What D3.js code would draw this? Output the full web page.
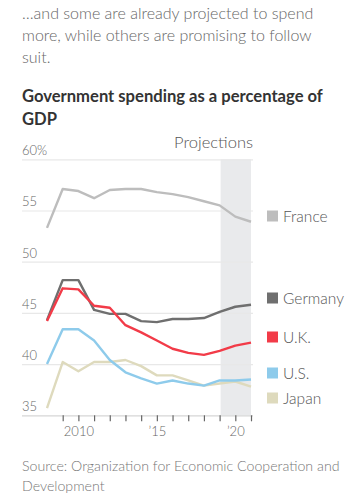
<!DOCTYPE html>
<html><head><meta charset="utf-8">
<script src="https://cdn.jsdelivr.net/npm/d3@7"></script>
<style>
body{margin:0;background:#fff;}
svg{display:block;}
</style></head>
<body>
<svg id="c" width="356" height="501"></svg>
<script>
const years = [2008,2009,2010,2011,2012,2013,2014,2015,2016,2017,2018,2019,2020,2021];
const france  = [53.3,57.1,56.9,56.2,57.0,57.1,57.1,56.8,56.6,56.3,55.9,55.5,54.4,53.9];
const germany = [44.3,48.2,48.2,45.3,44.9,44.9,44.2,44.1,44.4,44.4,44.5,45.1,45.6,45.8];
const uk      = [44.2,47.4,47.3,45.7,45.5,43.8,43.1,42.3,41.5,41.1,40.9,41.3,41.8,42.1];
const us      = [40.0,43.4,43.4,42.3,40.4,39.2,38.6,38.1,38.4,38.1,37.9,38.4,38.4,38.5];
const japan   = [35.7,40.2,39.3,40.2,40.2,40.4,39.8,38.9,38.9,38.4,37.9,38.1,38.3,37.8];
const yTicks = [35,40,45,50,55,60];
const xTickLabels = {2010:"2010",2015:"\u201915",2020:"\u201920"};
const projectionStart = 2019;

const series = [
  {name:"France", values:france, color:"#bdbdbd", ly:216},
  {name:"Germany", values:germany, color:"#6f6f6f", ly:298},
  {name:"U.K.", values:uk, color:"#f23b48", ly:337},
  {name:"U.S.", values:us, color:"#8ecbeb", ly:373},
  {name:"Japan", values:japan, color:"#dedabd", ly:398}
];

const svg = d3.select("#c");
const FONT = "Lato, 'Noto Sans', sans-serif";

// Intro text
const intro = ["\u2026and some are already projected to spend","more, while others are promising to follow","suit."];
svg.selectAll("text.intro").data(intro).join("text")
  .attr("x",22).attr("y",(d,i)=>19+i*22)
  .attr("font-family",FONT).attr("font-size",16).attr("font-weight",300)
  .attr("fill","#666").text(d=>d);

const title = ["Government spending as a percentage of","GDP"];
svg.selectAll("text.title").data(title).join("text")
  .attr("x",22).attr("y",(d,i)=>102+i*23)
  .attr("font-family",FONT).attr("font-size",16.6).attr("font-weight",700)
  .attr("fill","#333").text(d=>d);

const x = d3.scaleLinear().domain([2008,2021]).range([47,251]);
const y = d3.scaleLinear().domain([35,60]).range([415.3,159.3]);

// projection shade
svg.append("rect")
  .attr("x",x(projectionStart)+1).attr("y",y(60))
  .attr("width",x(2021)-x(projectionStart)-1).attr("height",y(35)-y(60))
  .attr("fill","#e9eaec");

// gridlines
const yAxis = d3.axisLeft(y).tickValues(yTicks).tickSize(-(253-22)).tickFormat(d=>d===60?"60%":d);
const gy = svg.append("g").attr("transform","translate(22,0)").call(yAxis);
gy.select(".domain").remove();
gy.selectAll(".tick line").attr("stroke",d=>d===35?"#d6d6d6":"#e8e8e8").attr("stroke-width",1.2);
gy.selectAll(".tick text").attr("x",0).attr("y",0).attr("dy","-0.35em").attr("text-anchor","start")
  .attr("font-family",FONT).attr("font-size",13).attr("font-weight",300).attr("fill","#666");

// x axis
const xAxis = d3.axisBottom(x).tickValues(d3.range(2009,2022)).tickSize(6).tickSizeOuter(0)
  .tickFormat(d=>xTickLabels[d]||"");
const gx = svg.append("g").attr("transform",`translate(0,${y(35)})`).call(xAxis);
gx.select(".domain").remove();
gx.selectAll(".tick line").attr("stroke","#666").attr("stroke-width",1.2);
gx.selectAll(".tick text").attr("y",11)
  .attr("font-family",FONT).attr("font-size",13).attr("font-weight",300).attr("fill","#666");

// Projections label
svg.append("text").attr("x",253).attr("y",148).attr("text-anchor","end")
  .attr("font-family",FONT).attr("font-size",16.5).attr("font-weight",300).attr("fill","#555")
  .text("Projections");

// lines
const line = d3.line().x((d,i)=>x(years[i])).y(d=>y(d));
const drawOrder = ["France","Japan","U.S.","Germany","U.K."];
drawOrder.forEach(n=>{
  const s = series.find(s=>s.name===n);
  svg.append("path").datum(s.values).attr("d",line)
    .attr("fill","none").attr("stroke",s.color).attr("stroke-width",2.4)
    .attr("stroke-linejoin","round");
});

// legend
const lg = svg.selectAll("g.lg").data(series).join("g").attr("class","lg")
  .attr("transform",d=>`translate(267,${d.ly})`);
lg.append("rect").attr("x",0).attr("y",-5.5).attr("width",11).attr("height",11).attr("fill",d=>d.color);
lg.append("text").attr("x",16).attr("y",5.5)
  .attr("font-family",FONT).attr("font-size",15.5).attr("font-weight",300).attr("fill","#555")
  .text(d=>d.name);

// source
const src = ["Source: Organization for Economic Cooperation and","Development"];
svg.selectAll("text.src").data(src).join("text")
  .attr("x",22).attr("y",(d,i)=>471+i*20)
  .attr("font-family",FONT).attr("font-size",14.2).attr("font-weight",300)
  .attr("fill","#777").text(d=>d);
</script>
</body></html>
